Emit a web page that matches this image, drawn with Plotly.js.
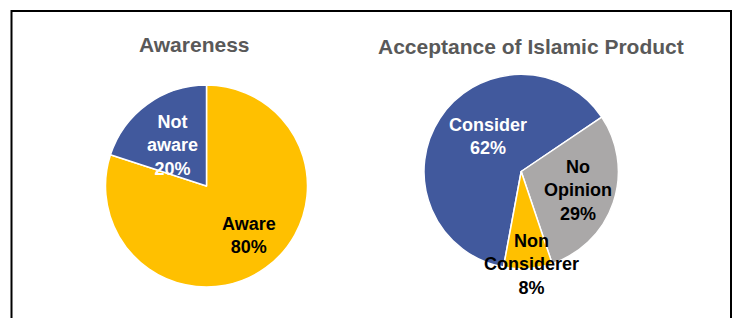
<!DOCTYPE html>
<html>
<head>
<meta charset="utf-8">
<script src="https://cdn.plot.ly/plotly-3.0.1.min.js"></script>
<style>html,body{margin:0;padding:0;background:#fff;}#chart{width:734px;height:318px;}</style>
</head>
<body>
<div id="chart"></div>
<script>
// Chart 1: Awareness
const awarenessTitle = "Awareness";
const awarenessLabels = ["Aware", "Not aware"];
const awarenessLabelText = ["Aware", "Not<br>aware"];
const awarenessValues = [80, 20];
const awarenessColors = ["#FFC000", "#41599D"];
const awarenessTextColors = ["#000000", "#FFFFFF"];

// Chart 2: Acceptance of Islamic Product
const acceptanceTitle = "Acceptance of Islamic Product";
const acceptanceLabels = ["Consider", "No Opinion", "Non Considerer"];
const acceptanceLabelText = ["Consider", "No<br>Opinion", "Non<br>Considerer"];
const acceptanceValues = [62, 29, 8];
const acceptanceColors = ["#41599D", "#AAA8A8", "#FFC000"];
const acceptanceTextColors = ["#FFFFFF", "#000000", "#000000"];

const W = 734, H = 318;
const px = x => x / W;
const py = y => 1 - y / H;

const traces = [
  {
    type: "pie",
    labels: awarenessLabels,
    values: awarenessValues,
    marker: {colors: awarenessColors, line: {color: "#FFFFFF", width: 1.5}},
    sort: false,
    direction: "clockwise",
    rotation: 0,
    textinfo: "none",
    hoverinfo: "label+value",
    showlegend: false,
    domain: {x: [px(105.5), px(307.5)], y: [py(287), py(85)]}
  },
  {
    type: "pie",
    labels: acceptanceLabels,
    values: acceptanceValues,
    marker: {colors: acceptanceColors, line: {color: "#FFFFFF", width: 1.5}},
    sort: false,
    direction: "clockwise",
    rotation: 190.5,
    textinfo: "none",
    hoverinfo: "label+value",
    showlegend: false,
    domain: {x: [px(424), px(618.4)], y: [py(268.7), py(74.3)]}
  }
];

const labelFont = {family: "Liberation Sans, Arial, sans-serif", size: 18};
const awarePos = [[249, 236], [172, 145]];
const acceptPos = [[488, 136], [578, 190], [531, 264]];

const annotations = [];
awarenessLabels.forEach((l, i) => {
  annotations.push({
    xref: "paper", yref: "paper", x: px(awarePos[i][0]), y: py(awarePos[i][1]),
    xanchor: "center", yanchor: "middle", showarrow: false, align: "center",
    text: "<b>" + awarenessLabelText[i] + "<br>" + awarenessValues[i] + "%</b>",
    font: Object.assign({}, labelFont, {color: awarenessTextColors[i]})
  });
});
acceptanceLabels.forEach((l, i) => {
  annotations.push({
    xref: "paper", yref: "paper", x: px(acceptPos[i][0]), y: py(acceptPos[i][1]),
    xanchor: "center", yanchor: "middle", showarrow: false, align: "center",
    text: "<b>" + acceptanceLabelText[i] + "<br>" + acceptanceValues[i] + "%</b>",
    font: Object.assign({}, labelFont, {color: acceptanceTextColors[i]})
  });
});
const titleFont = {family: "Liberation Sans, Arial, sans-serif", size: 21, color: "#595959"};
annotations.push({
  xref: "paper", yref: "paper", x: px(194), y: py(45), xanchor: "center", yanchor: "middle",
  showarrow: false, text: "<b>" + awarenessTitle + "</b>", font: titleFont
});
annotations.push({
  xref: "paper", yref: "paper", x: px(530.5), y: py(47), xanchor: "center", yanchor: "middle",
  showarrow: false, text: "<b>" + acceptanceTitle + "</b>", font: titleFont
});

const layout = {
  width: W, height: H,
  margin: {l: 0, r: 0, t: 0, b: 0},
  paper_bgcolor: "#FFFFFF",
  showlegend: false,
  annotations: annotations,
  shapes: [{
    type: "rect", xref: "paper", yref: "paper",
    x0: px(11.5), x1: px(731), y0: -0.1, y1: py(11),
    line: {color: "#000000", width: 2}, fillcolor: "rgba(0,0,0,0)"
  }]
};

Plotly.newPlot("chart", traces, layout, {displayModeBar: false, staticPlot: true});
</script>
</body>
</html>
